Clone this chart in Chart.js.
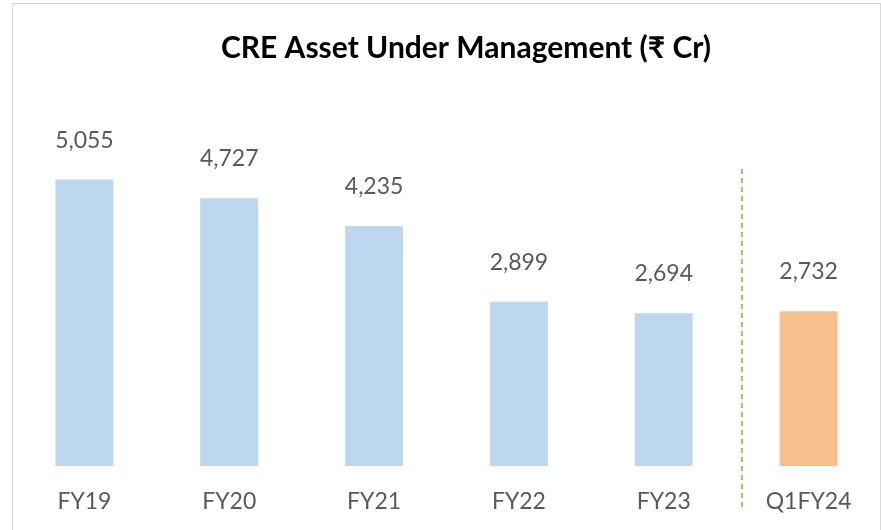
<!DOCTYPE html>
<html>
<head>
<meta charset="utf-8">
<script src="https://cdn.jsdelivr.net/npm/chart.js@4.4.0/dist/chart.umd.min.js"></script>
<style>
  html, body { margin: 0; padding: 0; overflow: hidden; background: #fff; }
  #frame { position: absolute; left: 12px; top: 3px; width: 867px; height: 560px; border: 1px solid #d9d9d9; }
  #wrap { position: absolute; left: 0; top: 0; width: 881px; height: 530px; }
</style>
</head>
<body>
<div id="frame"></div>
<div id="wrap"><canvas id="aumChart"></canvas></div>
<script>
const categories = ['FY19', 'FY20', 'FY21', 'FY22', 'FY23', 'Q1FY24'];
const aumValues = [5055, 4727, 4235, 2899, 2694, 2732];
const barColors = ['#BDD7EE', '#BDD7EE', '#BDD7EE', '#BDD7EE', '#BDD7EE', '#F8BF8F'];
const chartTitle = 'CRE Asset Under Management (₹ Cr)';

const FONT = 'Lato, "Open Sans", sans-serif';
const TEXT_GREY = '#595959';

// value labels above bars, title, and the dashed divider before the quarter bar
const extras = {
  id: 'extras',
  afterDatasetsDraw(chart) {
    const ctx = chart.ctx;
    const meta = chart.getDatasetMeta(0);
    ctx.save();
    ctx.fillStyle = TEXT_GREY;
    ctx.font = '23px ' + FONT;
    ctx.textAlign = 'center';
    ctx.textBaseline = 'alphabetic';
    meta.data.forEach(function(bar, i) {
      ctx.fillText(aumValues[i].toLocaleString('en-US'), bar.x, bar.y - 32);
    });

    // divider between FY23 and Q1FY24
    const x = chart.scales.x.getPixelForValue(4.54);
    ctx.strokeStyle = '#F4A25A';
    ctx.lineWidth = 2;
    ctx.setLineDash([5, 4]);
    ctx.beginPath();
    ctx.moveTo(x, 169);
    ctx.lineTo(x, 507);
    ctx.stroke();
    ctx.setLineDash([]);

    ctx.fillStyle = '#000';
    ctx.font = 'bold 30px ' + FONT;
    ctx.textBaseline = 'middle';
    ctx.fillText(chartTitle, 466, 48);
    ctx.restore();
  }
};

const ctx = document.getElementById('aumChart').getContext('2d');
const aumChart = new Chart(ctx, {
  type: 'bar',
  data: {
    labels: categories,
    datasets: [{
      data: aumValues,
      backgroundColor: barColors,
      borderWidth: 0,
      categoryPercentage: 1,
      barPercentage: 0.4
    }]
  },
  options: {
    responsive: true,
    maintainAspectRatio: false,
    animation: false,
    layout: { padding: { left: 12, right: 0, top: 126, bottom: 0 } },
    plugins: {
      legend: { display: false },
      tooltip: { enabled: false }
    },
    scales: {
      x: {
        grid: { display: false },
        border: { display: false },
        ticks: {
          color: TEXT_GREY,
          font: { family: FONT, size: 23 },
          padding: 14
        },
        afterFit(scale) { scale.height = 64; }
      },
      y: {
        display: false,
        min: 0,
        max: 6000
      }
    }
  },
  plugins: [extras]
});
</script>
</body>
</html>
